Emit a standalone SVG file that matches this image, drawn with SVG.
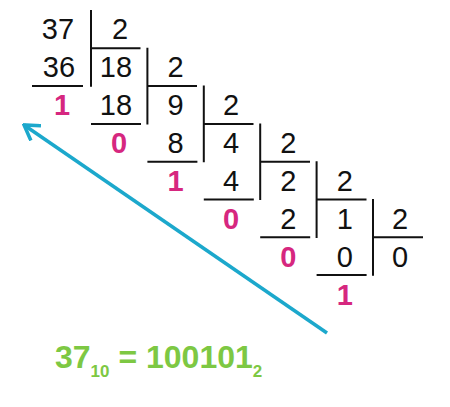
<svg xmlns="http://www.w3.org/2000/svg" width="450" height="407" viewBox="0 0 450 407">
<defs>
<style>
.n{font-family:"Liberation Sans",Arial,sans-serif;font-size:29px;fill:#111;text-anchor:middle}
.r{font-family:"Liberation Sans",Arial,sans-serif;font-size:29px;font-weight:bold;fill:#d6277f;text-anchor:middle}
.ln{stroke:#111;stroke-width:2;fill:none}
.res{font-family:"Liberation Sans",Arial,sans-serif;font-weight:bold;fill:#7dc843}
</style>
<marker id="ah" viewBox="0 0 20 20" refX="18" refY="10" markerWidth="20" markerHeight="20" markerUnits="userSpaceOnUse" orient="auto">
<path d="M5,2 L18,10 L5,18" fill="none" stroke="#1ca8cc" stroke-width="3.5" stroke-linecap="square"/>
</marker>
</defs>
<rect width="450" height="407" fill="#fff"/>
<g id="step1">
<text class="n" x="58" y="38.5">37</text>
<text class="n" x="59" y="76.5">36</text>
<text class="r" x="62" y="114.5">1</text>
<path class="ln" d="M91,10 V86.7 M91,48.3 H140.5 M32,86.1 H83"/>
</g>
<g id="step2">
<text class="n" x="120" y="38.5">2</text>
<text class="n" x="116" y="76.5">18</text>
<text class="n" x="116" y="114.5">18</text>
<text class="r" x="119" y="152.5">0</text>
<path class="ln" d="M147.4,47.8 V124.5 M147.4,86.1 H197 M91,123.9 H141"/>
</g>
<g id="step3">
<text class="n" x="175.6" y="76.5">2</text>
<text class="n" x="175.6" y="114.5">9</text>
<text class="n" x="175.6" y="152.5">8</text>
<text class="r" x="175.6" y="190.5">1</text>
<path class="ln" d="M203.8,85.6 V162.3 M203.8,123.9 H253.5 M147.4,161.7 H197.4"/>
</g>
<g id="step4">
<text class="n" x="231" y="114.5">2</text>
<text class="n" x="231" y="152.5">4</text>
<text class="n" x="231" y="190.5">4</text>
<text class="r" x="231" y="228.5">0</text>
<path class="ln" d="M260.2,123.4 V200.1 M260.2,161.7 H310 M203.8,199.5 H253.8"/>
</g>
<g id="step5">
<text class="n" x="288.4" y="152.5">2</text>
<text class="n" x="288.4" y="190.5">2</text>
<text class="n" x="288.4" y="228.5">2</text>
<text class="r" x="288.4" y="266.5">0</text>
<path class="ln" d="M316.6,161.2 V237.9 M316.6,199.5 H366.5 M260.2,237.3 H310.2"/>
</g>
<g id="step6">
<text class="n" x="344.8" y="190.5">2</text>
<text class="n" x="344.8" y="228.5">1</text>
<text class="n" x="344.8" y="266.5">0</text>
<text class="r" x="344.8" y="304.5">1</text>
<path class="ln" d="M373,199 V275.7 M373,237.3 H423 M316.6,275.1 H366.6"/>
</g>
<g id="step7">
<text class="n" x="400" y="228.5">2</text>
<text class="n" x="400" y="266.5">0</text>
</g>
<g id="connectors">
<line x1="327" y1="333" x2="24" y2="125" stroke="#1ca8cc" stroke-width="3.5" marker-end="url(#ah)"/>
</g>
<g id="result">
<text class="res" x="55" y="368" font-size="32">37<tspan font-size="17" dy="8.5">10</tspan><tspan dy="-8.5"> = 100101</tspan><tspan font-size="17" dy="8.5">2</tspan></text>
</g>
</svg>
